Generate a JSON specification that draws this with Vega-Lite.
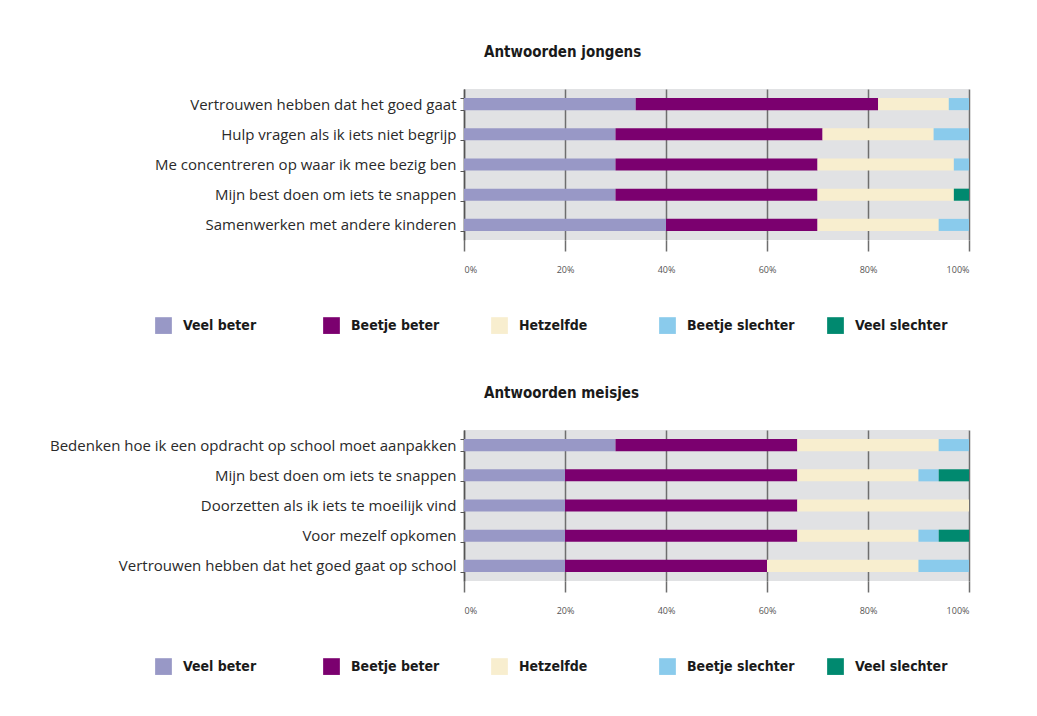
{
  "$schema": "https://vega.github.io/schema/vega-lite/v6.json",
  "background": "white",
  "padding": {"left": 49, "top": 45, "right": 5, "bottom": 5},
  "datasets": {
    "jongens": [
      {"item": "Vertrouwen hebben dat het goed gaat", "antwoord": "Veel beter", "pct": 34},
      {"item": "Vertrouwen hebben dat het goed gaat", "antwoord": "Beetje beter", "pct": 48},
      {"item": "Vertrouwen hebben dat het goed gaat", "antwoord": "Hetzelfde", "pct": 14},
      {"item": "Vertrouwen hebben dat het goed gaat", "antwoord": "Beetje slechter", "pct": 4},
      {"item": "Hulp vragen als ik iets niet begrijp", "antwoord": "Veel beter", "pct": 30},
      {"item": "Hulp vragen als ik iets niet begrijp", "antwoord": "Beetje beter", "pct": 41},
      {"item": "Hulp vragen als ik iets niet begrijp", "antwoord": "Hetzelfde", "pct": 22},
      {"item": "Hulp vragen als ik iets niet begrijp", "antwoord": "Beetje slechter", "pct": 7},
      {"item": "Me concentreren op waar ik mee bezig ben", "antwoord": "Veel beter", "pct": 30},
      {"item": "Me concentreren op waar ik mee bezig ben", "antwoord": "Beetje beter", "pct": 40},
      {"item": "Me concentreren op waar ik mee bezig ben", "antwoord": "Hetzelfde", "pct": 27},
      {"item": "Me concentreren op waar ik mee bezig ben", "antwoord": "Beetje slechter", "pct": 3},
      {"item": "Mijn best doen om iets te snappen", "antwoord": "Veel beter", "pct": 30},
      {"item": "Mijn best doen om iets te snappen", "antwoord": "Beetje beter", "pct": 40},
      {"item": "Mijn best doen om iets te snappen", "antwoord": "Hetzelfde", "pct": 27},
      {"item": "Mijn best doen om iets te snappen", "antwoord": "Veel slechter", "pct": 3},
      {"item": "Samenwerken met andere kinderen", "antwoord": "Veel beter", "pct": 40},
      {"item": "Samenwerken met andere kinderen", "antwoord": "Beetje beter", "pct": 30},
      {"item": "Samenwerken met andere kinderen", "antwoord": "Hetzelfde", "pct": 24},
      {"item": "Samenwerken met andere kinderen", "antwoord": "Beetje slechter", "pct": 6}
    ],
    "meisjes": [
      {"item": "Bedenken hoe ik een opdracht op school moet aanpakken", "antwoord": "Veel beter", "pct": 30},
      {"item": "Bedenken hoe ik een opdracht op school moet aanpakken", "antwoord": "Beetje beter", "pct": 36},
      {"item": "Bedenken hoe ik een opdracht op school moet aanpakken", "antwoord": "Hetzelfde", "pct": 28},
      {"item": "Bedenken hoe ik een opdracht op school moet aanpakken", "antwoord": "Beetje slechter", "pct": 6},
      {"item": "Mijn best doen om iets te snappen", "antwoord": "Veel beter", "pct": 20},
      {"item": "Mijn best doen om iets te snappen", "antwoord": "Beetje beter", "pct": 46},
      {"item": "Mijn best doen om iets te snappen", "antwoord": "Hetzelfde", "pct": 24},
      {"item": "Mijn best doen om iets te snappen", "antwoord": "Beetje slechter", "pct": 4},
      {"item": "Mijn best doen om iets te snappen", "antwoord": "Veel slechter", "pct": 6},
      {"item": "Doorzetten als ik iets te moeilijk vind", "antwoord": "Veel beter", "pct": 20},
      {"item": "Doorzetten als ik iets te moeilijk vind", "antwoord": "Beetje beter", "pct": 46},
      {"item": "Doorzetten als ik iets te moeilijk vind", "antwoord": "Hetzelfde", "pct": 34},
      {"item": "Voor mezelf opkomen", "antwoord": "Veel beter", "pct": 20},
      {"item": "Voor mezelf opkomen", "antwoord": "Beetje beter", "pct": 46},
      {"item": "Voor mezelf opkomen", "antwoord": "Hetzelfde", "pct": 24},
      {"item": "Voor mezelf opkomen", "antwoord": "Beetje slechter", "pct": 4},
      {"item": "Voor mezelf opkomen", "antwoord": "Veel slechter", "pct": 6},
      {"item": "Vertrouwen hebben dat het goed gaat op school", "antwoord": "Veel beter", "pct": 20},
      {"item": "Vertrouwen hebben dat het goed gaat op school", "antwoord": "Beetje beter", "pct": 40},
      {"item": "Vertrouwen hebben dat het goed gaat op school", "antwoord": "Hetzelfde", "pct": 30},
      {"item": "Vertrouwen hebben dat het goed gaat op school", "antwoord": "Beetje slechter", "pct": 10}
    ]
  },
  "config": {
    "view": {"fill": "#e1e2e4", "stroke": null},
    "font": "DejaVu Sans Condensed",
    "title": {"font": "DejaVu Sans Condensed", "fontSize": 15, "fontWeight": "bold", "color": "#1a1a1a", "anchor": "start", "frame": "group", "dx": 20, "offset": 22},
    "axisX": {
      "grid": true, "gridColor": "#6e6e6e", "gridWidth": 1.5,
      "domain": false, "tickSize": 11, "tickColor": "#6e6e6e", "tickWidth": 1.5,
      "labelFont": "Open Sans", "labelFontSize": 9, "labelColor": "#555555", "labelPadding": 14,
      "title": null
    },
    "axisY": {
      "domainColor": "#555555", "domainWidth": 1.5, "tickColor": "#555555", "tickSize": 4, "tickBand": "extent",
      "labelFont": "Open Sans", "labelFontSize": 15, "labelColor": "#2a2a2a", "labelPadding": 4, "labelLimit": 600,
      "title": null, "grid": false
    },
    "legend": {
      "orient": "none", "legendX": -309, "legendY": 228, "direction": "horizontal", "columns": 5, "gridAlign": "all",
      "symbolType": "square", "symbolSize": 280, "symbolStrokeWidth": 0, "symbolOpacity": 1,
      "labelFont": "DejaVu Sans Condensed", "labelFontSize": 14, "labelFontWeight": "bold", "labelColor": "#1a1a1a",
      "labelOffset": 11, "columnPadding": 32, "title": null
    }
  },
  "spacing": 52,
  "vconcat": [
    {
      "title": "Antwoorden jongens",
      "data": {"name": "jongens"},
      "transform": [{"calculate": "indexof(['Veel beter','Beetje beter','Hetzelfde','Beetje slechter','Veel slechter'], datum.antwoord)", "as": "volgorde"}],
      "width": 505, "height": 151,
      "mark": {"type": "bar"},
      "encoding": {
        "y": {"field": "item", "type": "nominal",
          "sort": ["Vertrouwen hebben dat het goed gaat", "Hulp vragen als ik iets niet begrijp", "Me concentreren op waar ik mee bezig ben", "Mijn best doen om iets te snappen", "Samenwerken met andere kinderen"],
          "scale": {"paddingInner": 0.6, "paddingOuter": 0.3}},
        "x": {"field": "pct", "type": "quantitative", "stack": "zero", "scale": {"domain": [0, 100]},
          "axis": {"values": [0, 20, 40, 60, 80, 100], "labelExpr": "datum.value + '%'"}},
        "order": {"field": "volgorde", "type": "quantitative", "sort": "ascending"},
        "color": {"field": "antwoord", "type": "nominal",
          "scale": {"domain": ["Veel beter", "Beetje beter", "Hetzelfde", "Beetje slechter", "Veel slechter"],
                    "range": ["#9898c6", "#7b006f", "#f8eecf", "#8acbec", "#00896f"]}}
      }
    },
    {
      "title": "Antwoorden meisjes",
      "data": {"name": "meisjes"},
      "transform": [{"calculate": "indexof(['Veel beter','Beetje beter','Hetzelfde','Beetje slechter','Veel slechter'], datum.antwoord)", "as": "volgorde"}],
      "width": 505, "height": 151,
      "mark": {"type": "bar"},
      "encoding": {
        "y": {"field": "item", "type": "nominal",
          "sort": ["Bedenken hoe ik een opdracht op school moet aanpakken", "Mijn best doen om iets te snappen", "Doorzetten als ik iets te moeilijk vind", "Voor mezelf opkomen", "Vertrouwen hebben dat het goed gaat op school"],
          "scale": {"paddingInner": 0.6, "paddingOuter": 0.3}},
        "x": {"field": "pct", "type": "quantitative", "stack": "zero", "scale": {"domain": [0, 100]},
          "axis": {"values": [0, 20, 40, 60, 80, 100], "labelExpr": "datum.value + '%'"}},
        "order": {"field": "volgorde", "type": "quantitative", "sort": "ascending"},
        "color": {"field": "antwoord", "type": "nominal",
          "scale": {"domain": ["Veel beter", "Beetje beter", "Hetzelfde", "Beetje slechter", "Veel slechter"],
                    "range": ["#9898c6", "#7b006f", "#f8eecf", "#8acbec", "#00896f"]}}
      }
    }
  ],
  "resolve": {"scale": {"color": "independent", "y": "independent"}, "legend": {"color": "independent"}}
}
